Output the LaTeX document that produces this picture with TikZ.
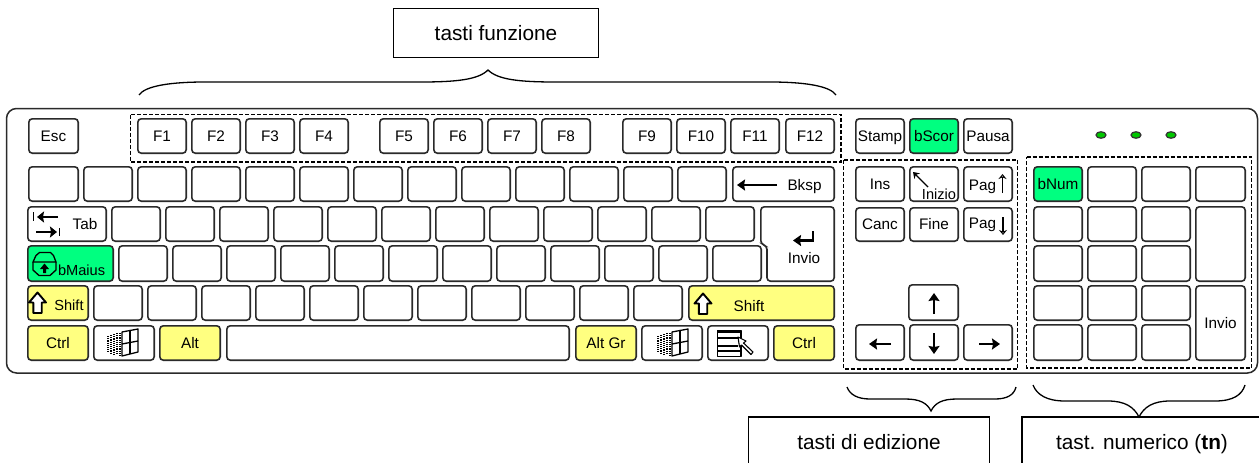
\documentclass[tikz,border=0pt]{standalone}
\usepackage{fontspec}
\setmainfont{Liberation Sans}
\usetikzlibrary{arrows.meta,shapes.geometric}
\definecolor{keyline}{HTML}{2A2A2A}
\definecolor{hlgreen}{HTML}{00FF80}
\definecolor{hlyellow}{HTML}{FFFF80}
\definecolor{ledgreen}{HTML}{00C800}
\tikzset{
  keybox/.style={draw=keyline,line width=1.6pt,rounded corners=3.5pt,fill=white,inner sep=0pt,outer sep=0pt,
    font=\fontsize{15.3}{16}\selectfont,text height=10.4pt,text depth=0pt,align=center},
  gk/.style={fill=hlgreen},
  yk/.style={fill=hlyellow},
  keyglyph/.style={inner sep=0pt,outer sep=0pt,font=\fontsize{15.3}{16}\selectfont,text height=10.4pt,text depth=0pt},
  zone/.style={draw=black,line width=1.2pt,dash pattern=on 4pt off 2pt},
  tagbox/.style={draw=black,line width=1.6pt,fill=white,inner sep=0pt,font=\fontsize{20.8}{23}\selectfont,
    text height=14.8pt,text depth=0pt},
  bracecurve/.style={draw=black,line width=1.3pt},
  heavyarrow/.style={draw=black,line width=2.6pt,-{Stealth[length=8pt,width=11pt,inset=1pt]}},
  thinarrow/.style={draw=black,line width=1.2pt,-{Stealth[length=5pt,width=8pt,open]}},
  icon/.style={draw=black,line width=1.3pt,line join=round},
  led/.style={ellipse,draw=black!80,line width=1.2pt,fill=ledgreen,minimum width=10pt,minimum height=6.5pt,inner sep=0pt},
}
\newcommand{\kk}[7][]{%
  \pgfmathsetmacro\kw{#5-#3-1.6}%
  \pgfmathsetmacro\kh{#6-#4-1.6}%
  \pgfmathsetmacro\kcx{(#3+#5)/2}%
  \pgfmathsetmacro\kcy{(#4+#6)/2}%
  \node[keybox,#1,minimum width=\kw pt,minimum height=\kh pt] (#2) at (\kcx,\kcy) {#7};%
}
\newcommand{\shiftglyph}[2]{%
  \draw[icon,fill=white,line width=1.9pt] (#1,#2) -- ++(8.5,10) -- ++(-4.3,0) -- ++(0,10.5) -- ++(-8.4,0) -- ++(0,-10.5) -- ++(-4.3,0) -- cycle;%
}
\newcommand{\winglyph}[1]{%
  \begin{scope}[shift={(#1,0)}]
    \draw[icon,line width=1.3pt] (122,332) -- (138,329) -- (138,352) -- (122,356) -- cycle;
    \draw[icon,line width=1.3pt] (130,331) -- (130,354);
    \draw[icon,line width=1.3pt] (122,344) -- (138,341);
    \foreach \dx/\ya/\yb in {108/336/352,111/335/353,114/334/354,117/333/355,120/333/356}
      \draw[black,line width=1.3pt,dash pattern=on 1.2pt off 1pt] (\dx,\ya) -- (\dx,\yb);
  \end{scope}%
}
\begin{document}
\begin{tikzpicture}[x=1pt,y=-1pt]
\useasboundingbox (0,0) rectangle (1259,463);
\clip (0,0) rectangle (1259,463);
\fill[white] (0,0) rectangle (1259,463);

% case
\draw[draw=keyline,line width=1.5pt,rounded corners=10pt] (6.5,108.5) rectangle (1257.5,373);

% dashed zones
\draw[zone] (130.5,114.5) rectangle (841,162);
\draw[zone] (843.5,160) rectangle (1017.5,369);
\draw[zone] (1026.5,157) -- (1251.5,157) -- (1251.5,368) -- (1026.5,368) -- cycle;

% function row
\kk{esc}{28}{118}{79}{154}{Esc}
\kk{f1}{137}{118}{187}{154}{F1}
\kk{f2}{191}{118}{241}{154}{F2}
\kk{f3}{245}{118}{295}{154}{F3}
\kk{f4}{299}{118}{349}{154}{F4}
\kk{f5}{379}{118}{429}{154}{F5}
\kk{f6}{433}{118}{483}{154}{F6}
\kk{f7}{487}{118}{537}{154}{F7}
\kk{f8}{541}{118}{591}{154}{F8}
\kk{f9}{622}{118}{672}{154}{F9}
\kk{f10}{676}{118}{726}{154}{F10}
\kk{f11}{730}{118}{780}{154}{F11}
\kk{f12}{785}{118}{835}{154}{F12}
\kk{stamp}{855}{118}{905}{154}{Stamp}
\kk[gk]{bscor}{909}{118}{959}{154}{bScor}
\kk{pausa}{963}{118}{1013}{154}{Pausa}

% number row
\kk{ra0}{28}{166}{79}{202}{}
\foreach \i in {1,...,12} {
  \pgfmathsetmacro\xa{29+54*\i}
  \pgfmathsetmacro\xb{\xa+50}
  \kk{ra\i}{\xa}{166}{\xb}{202}{}
}
\kk{bksp}{732}{166}{835}{202}{}
\coordinate (bkspR) at (777,185);
\coordinate (bkspL) at (737,185);
\draw[heavyarrow] (bkspR) -- (bkspL);
\node[keyglyph] (bksptxt) at (804.5,185) {Bksp};

% tab row
\kk{tab}{27}{206}{107}{242}{}
\node[keyglyph] (tabtxt) at (85,224.5) {Tab};
\coordinate (tabA) at (58,217); \coordinate (tabB) at (37,217);
\coordinate (tabC) at (36,232); \coordinate (tabD) at (57,232);
\draw[black,line width=2.5pt,-{Stealth[length=7pt,width=11pt,inset=1pt]}] (tabA) -- (tabB);
\draw[black,line width=2.5pt,-{Stealth[length=7pt,width=11pt,inset=1pt]}] (tabC) -- (tabD);
\draw[black,line width=1.3pt] (33.5,212) -- (33.5,221) (59.5,228) -- (59.5,236);
\foreach \i in {0,...,11} {
  \pgfmathsetmacro\xa{111+54*\i}
  \pgfmathsetmacro\xb{\xa+50}
  \kk{rb\i}{\xa}{206}{\xb}{242}{}
}

% caps row
\kk[gk]{caps}{27}{245}{114}{282}{}
\node[keyglyph,anchor=west,font=\fontsize{14.6}{15}\selectfont] (capstxt) at (58,270) {bMaius};
\draw[icon,line width=1.3pt] (33,262) -- (36,255.5) -- (39.5,252.5) -- (50.5,252.5) -- (53.5,255.5) -- (56,262) -- cycle;
\draw[icon,line width=1.3pt] (33,262) -- (33,270) -- (39,275.5) -- (50,275.5) -- (56,270) -- (56,262);
\fill[black] (44.5,263.5) -- (49,269) -- (46,269) -- (46,273) -- (43,273) -- (43,269) -- (40,269) -- cycle;
\foreach \i in {0,...,11} {
  \pgfmathsetmacro\xa{118+54*\i}
  \pgfmathsetmacro\xb{\xa+50}
  \kk{rc\i}{\xa}{245}{\xb}{282}{}
}

% enter key
\draw[keybox] (760.8,206.8) -- (834.2,206.8) -- (834.2,281.2) -- (767,281.2) -- (767,246) -- (760.8,244) -- cycle;
\node[keyglyph] (invio) at (804,258.5) {Invio};
\coordinate (entA) at (813,231); \coordinate (entB) at (813,240.5); \coordinate (entC) at (793,240.5);
\draw[heavyarrow] (entA) -- (entB) -- (entC);

% shift row
\kk[yk]{lshift}{27}{285}{89}{321}{}
\node[keyglyph,font=\fontsize{14.6}{15}\selectfont] (lshifttxt) at (69,305.5) {Shift};
\shiftglyph{37.5}{292.5}
\foreach \i in {0,...,10} {
  \pgfmathsetmacro\xa{93+54*\i}
  \pgfmathsetmacro\xb{\xa+50}
  \kk{rd\i}{\xa}{285}{\xb}{321}{}
}
\kk[yk]{rshift}{688}{285}{835}{321}{}
\node[keyglyph] (rshifttxt) at (749,306) {Shift};
\shiftglyph{703}{293.5}

% bottom row
\kk[yk]{lctrl}{27}{325}{89}{361}{Ctrl}
\kk{lwin}{93}{325}{155}{361}{}
\winglyph{0}
\kk[yk]{alt}{159}{325}{221}{361}{Alt}
\kk{space}{226}{325}{570}{361}{}
\kk[yk]{altgr}{575}{325}{637}{361}{Alt Gr}
\kk{rwin}{641}{325}{703}{361}{}
\winglyph{550}
\kk{menu}{707}{325}{769}{361}{}
\draw[icon,line width=1.5pt] (717.5,330.5) rectangle (741,356.5);
\draw[black,line width=1.4pt] (717.5,338) -- (741,338) (717.5,346) -- (738,346) (717.5,351) -- (741,351);
\fill[black] (717.5,330.5) rectangle (741,333);
\draw[icon,fill=white,line width=1.1pt] (738,337) -- (746,341) -- (743.5,343) -- (753,352) -- (751,354.5) -- (741.5,345) -- (739.5,347) -- cycle;
\kk[yk]{rctrl}{773}{325}{835}{361}{Ctrl}

% editing block
\kk{ins}{855}{166}{905}{202}{Ins}
\kk{home}{909}{166}{959}{202}{}
\node[keyglyph,font=\fontsize{14.6}{15}\selectfont] (hometxt) at (939,194) {Inizio};
\coordinate (homeA) at (928,187); \coordinate (homeB) at (913,172);
\draw[black,line width=1.4pt,-{Stealth[length=6pt,width=8pt]}] (homeA) -- (homeB);
\kk{pgup}{963}{166}{1013}{202}{}
\node[keyglyph] (pguptxt) at (982.5,185) {Pag};
\coordinate (pguA) at (1002.5,193); \coordinate (pguB) at (1002.5,174);
\draw[thinarrow] (pguA) -- (pguB);
\kk{canc}{855}{207}{905}{242}{Canc}
\kk{fine}{909}{207}{959}{242}{Fine}
\kk{pgdn}{963}{207}{1013}{242}{}
\node[keyglyph] (pgdntxt) at (982.5,223) {Pag};
\coordinate (pgdA) at (1003,217); \coordinate (pgdB) at (1003,235);
\draw[thinarrow] (pgdA) -- (pgdB);
\kk{up}{908}{284}{959}{321}{}
\kk{left}{855}{324}{905}{361}{}
\kk{down}{909}{324}{959}{361}{}
\kk{right}{963}{324}{1013}{361}{}
\coordinate (upA) at (934,314); \coordinate (upB) at (934,293);
\coordinate (dnA) at (934,333); \coordinate (dnB) at (934,354);
\coordinate (ltA) at (891,344); \coordinate (ltB) at (869,344);
\coordinate (rtA) at (979,344); \coordinate (rtB) at (1000,344);
\draw[heavyarrow] (upA) -- (upB);
\draw[heavyarrow] (dnA) -- (dnB);
\draw[heavyarrow] (ltA) -- (ltB);
\draw[heavyarrow] (rtA) -- (rtB);

% LEDs
\node[led] (led1) at (1101,135) {};
\node[led] (led2) at (1136,135) {};
\node[led] (led3) at (1171,135) {};

% numeric pad
\kk[gk]{bnum}{1033}{166}{1083}{202}{bNum}
\kk{na2}{1087}{166}{1137}{202}{}
\kk{na3}{1141}{166}{1191}{202}{}
\kk{na4}{1195}{166}{1246}{202}{}
\kk{nb1}{1033}{206}{1083}{242}{}
\kk{nb2}{1087}{206}{1137}{242}{}
\kk{nb3}{1141}{206}{1191}{242}{}
\kk{nplus}{1195}{206}{1246}{282}{}
\kk{nc1}{1033}{245}{1083}{282}{}
\kk{nc2}{1087}{245}{1137}{282}{}
\kk{nc3}{1141}{245}{1191}{282}{}
\kk{nd1}{1033}{285}{1083}{321}{}
\kk{nd2}{1087}{285}{1137}{321}{}
\kk{nd3}{1141}{285}{1191}{321}{}
\kk{ninvio}{1195}{285}{1246}{361}{Invio}
\kk{ne1}{1033}{324}{1083}{361}{}
\kk{ne2}{1087}{324}{1137}{361}{}
\kk{ne3}{1141}{324}{1191}{361}{}

% labels
\node[tagbox,minimum width=205pt,minimum height=49pt] (tagfn) at (496,33) {tasti funzione};
\node[tagbox,minimum width=241pt,minimum height=50pt] (taged) at (869,442) {tasti di edizione};
\node[tagbox,minimum width=240pt,minimum height=50pt] (tagnum) at (1142,442) {tast. numerico (\textbf{tn})};

% braces
\draw[bracecurve] (139,95) .. controls (145,86) and (170,82) .. (205,82) -- (420,82)
  .. controls (455,82) and (478,80) .. (488,70)
  .. controls (498,80) and (521,82) .. (556,82) -- (770,82)
  .. controls (805,82) and (830,86) .. (836,95);
\draw[bracecurve] (847,387) .. controls (850,395) and (858,399) .. (870,399) -- (905,399)
  .. controls (920,399) and (927,403) .. (931,411)
  .. controls (935,403) and (942,399) .. (957,399) -- (995,399)
  .. controls (1007,399) and (1014,395) .. (1016,387);
\draw[bracecurve] (1033,385) .. controls (1037,395) and (1047,401) .. (1065,401) -- (1108,401)
  .. controls (1125,401) and (1134,407) .. (1139,417)
  .. controls (1144,407) and (1153,401) .. (1170,401) -- (1215,401)
  .. controls (1233,401) and (1242,395) .. (1245,385);
\end{tikzpicture}
\end{document}
